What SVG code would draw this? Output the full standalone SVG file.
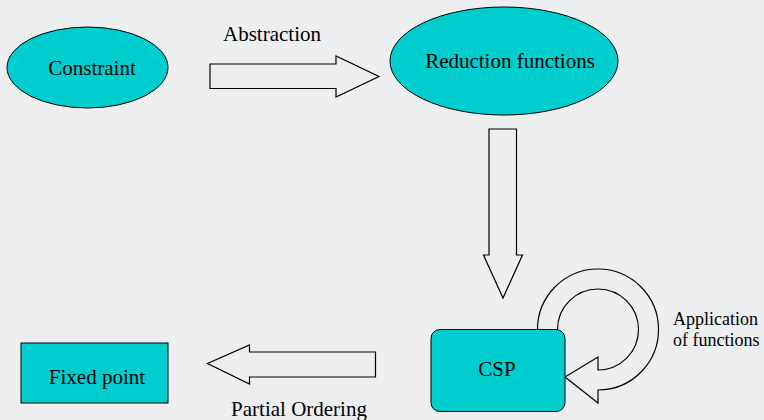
<svg xmlns="http://www.w3.org/2000/svg" width="764" height="420" viewBox="0 0 764 420">
<style>
.node{fill:#00CDCD;stroke:#000;stroke-width:1}
.arr{fill:none;stroke:#000;stroke-width:1.2;stroke-linejoin:miter}
.t{font-family:"Liberation Serif","Times New Roman",serif;font-size:21px;fill:#000}
.s{font-size:18px}
</style>
<rect x="0" y="0" width="764" height="420" fill="#EDEEF0"/>
<g id="connectors">
<path id="abstraction" class="arr" d="M210 64 H336 V56 L379 76.5 L336 97 V88.5 H210 Z"/>
<text class="t" x="272" y="41" text-anchor="middle">Abstraction</text>
<path id="down" class="arr" d="M489 129 H516.5 V255 H522.5 L503 298 L483.5 255 H489 Z"/>
<path id="loop" class="arr" d="M537.5 329.5 A60.5 60.5 0 1 1 598 390 L598 403 L565 377 L598 357 L598 370 A40.5 40.5 0 1 0 557.5 329.5 Z"/>
<text class="t s" x="673" y="325">Application</text>
<text class="t s" x="673" y="346">of functions</text>
<path id="partial" class="arr" d="M375.5 352 V377 H249.5 V384 L207.5 363.5 L249.5 345 V352 Z"/>
<text class="t" x="299" y="416" text-anchor="middle">Partial Ordering</text>
</g>
<g id="constraint">
<ellipse class="node" cx="87.5" cy="67.5" rx="80.5" ry="40.5"/>
<text class="t" x="92" y="75" text-anchor="middle">Constraint</text>
</g>
<g id="reduction">
<ellipse class="node" cx="504" cy="61" rx="114" ry="54"/>
<text class="t" x="510" y="68" text-anchor="middle">Reduction functions</text>
</g>
<g id="csp">
<rect class="node" x="431" y="329.5" width="134" height="82" rx="9"/>
<text class="t" x="497" y="376" text-anchor="middle">CSP</text>
</g>
<g id="fixed">
<rect class="node" x="21" y="343" width="147" height="60"/>
<text class="t" x="97" y="384" text-anchor="middle">Fixed point</text>
</g>
</svg>
